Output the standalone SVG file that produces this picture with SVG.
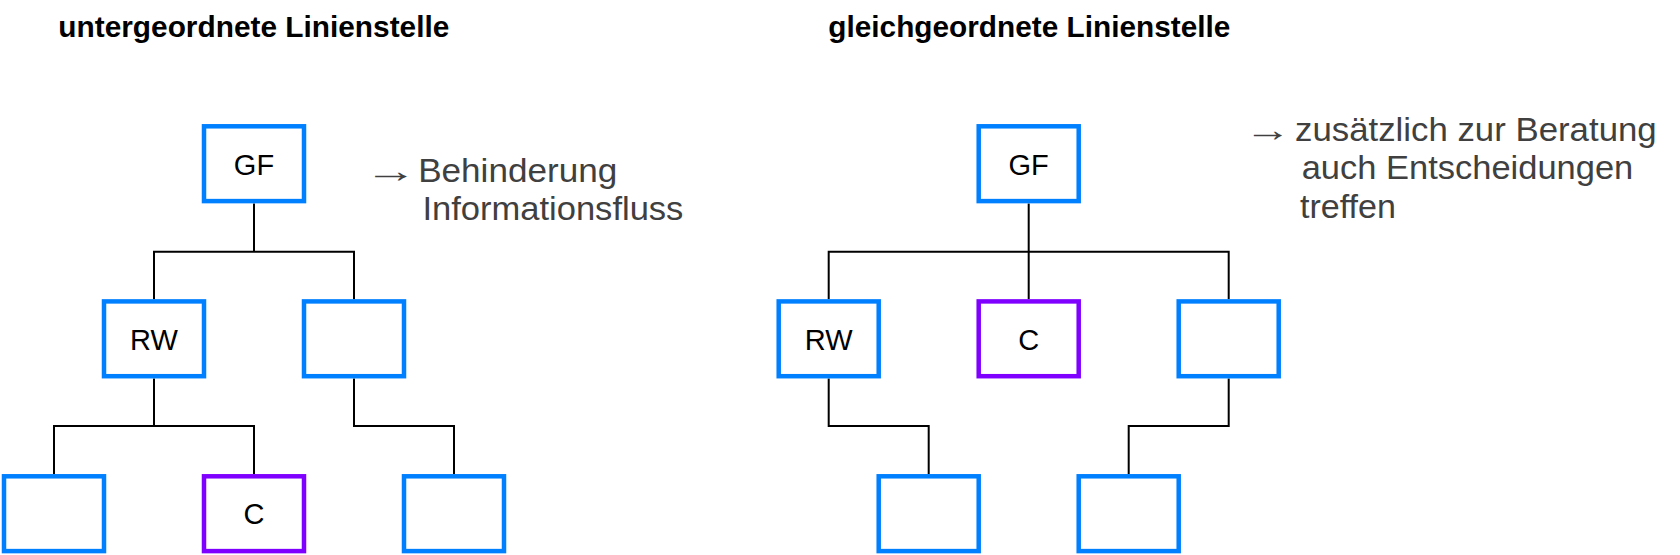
<svg xmlns="http://www.w3.org/2000/svg" width="1680" height="555" viewBox="0 0 1680 555">
<style>
  .box{fill:#fff;stroke:#0080ff;stroke-width:4.5}
  .box.c{stroke:#7f00ff}
  .lbl{font-family:"Liberation Sans",Arial,sans-serif;font-size:29px;fill:#000;text-anchor:middle}
  .title{font-family:"Liberation Sans",Arial,sans-serif;font-size:29.5px;font-weight:bold;fill:#000}
  .note{font-family:"Liberation Sans",Arial,sans-serif;font-size:34px;fill:#404040}
  .arrow{font-family:"Liberation Sans",Arial,sans-serif;font-size:33px;fill:#404040}
  .conn{fill:none;stroke:#000;stroke-width:2}
</style>
<rect width="1680" height="555" fill="#fff"/>

<text class="title" x="58.3" y="37.3" textLength="391" lengthAdjust="spacingAndGlyphs">untergeordnete Linienstelle</text>
<text class="title" x="828.3" y="37.3" textLength="402" lengthAdjust="spacingAndGlyphs">gleichgeordnete Linienstelle</text>

<g id="connectors">
  <path class="conn" d="M254 203.5V251.7M154 299.2V251.7H354V299.2"/>
  <path class="conn" d="M154 378.5V426M54 474V426H254V474"/>
  <path class="conn" d="M354 378.5V426H454V474"/>
  <path class="conn" d="M1028.7 203.5V299.2M828.7 299.2V251.7H1228.7V299.2"/>
  <path class="conn" d="M828.7 378.5V426H928.7V474"/>
  <path class="conn" d="M1228.7 378.5V426H1128.7V474"/>
</g>

<g id="l-gf"><rect class="box" x="204" y="126.3" width="100" height="74.8"/><text class="lbl" x="254" y="175.3">GF</text></g>
<g id="l-rw"><rect class="box" x="104" y="301.4" width="100" height="74.8"/><text class="lbl" x="154" y="350.3">RW</text></g>
<g id="l-m2"><rect class="box" x="304" y="301.4" width="100" height="74.8"/></g>
<g id="l-b1"><rect class="box" x="4" y="476.3" width="100" height="74.8"/></g>
<g id="l-c"><rect class="box c" x="204" y="476.3" width="100" height="74.8"/><text class="lbl" x="254" y="524.3">C</text></g>
<g id="l-b3"><rect class="box" x="404" y="476.3" width="100" height="74.8"/></g>

<g id="r-gf"><rect class="box" x="978.7" y="126.3" width="100" height="74.8"/><text class="lbl" x="1028.7" y="175.3">GF</text></g>
<g id="r-rw"><rect class="box" x="778.7" y="301.4" width="100" height="74.8"/><text class="lbl" x="828.7" y="350.3">RW</text></g>
<g id="r-c"><rect class="box c" x="978.7" y="301.4" width="100" height="74.8"/><text class="lbl" x="1028.7" y="350.3">C</text></g>
<g id="r-m3"><rect class="box" x="1178.7" y="301.4" width="100" height="74.8"/></g>
<g id="r-b1"><rect class="box" x="878.7" y="476.3" width="100" height="74.8"/></g>
<g id="r-b2"><rect class="box" x="1078.7" y="476.3" width="100" height="74.8"/></g>

<g id="note-left">
  <text class="arrow" x="364" y="181.7" textLength="53" lengthAdjust="spacingAndGlyphs">→</text>
  <text class="note" x="418.2" y="181.7" textLength="199" lengthAdjust="spacingAndGlyphs">Behinderung</text>
  <text class="note" x="422.4" y="220" textLength="261" lengthAdjust="spacingAndGlyphs">Informationsfluss</text>
</g>
<g id="note-right">
  <text class="arrow" x="1244" y="141" textLength="47" lengthAdjust="spacingAndGlyphs">→</text>
  <text class="note" x="1295" y="141" textLength="361.7" lengthAdjust="spacingAndGlyphs">zusätzlich zur Beratung</text>
  <text class="note" x="1301.7" y="179" textLength="331.6" lengthAdjust="spacingAndGlyphs">auch Entscheidungen</text>
  <text class="note" x="1300" y="218" textLength="96" lengthAdjust="spacingAndGlyphs">treffen</text>
</g>
</svg>
